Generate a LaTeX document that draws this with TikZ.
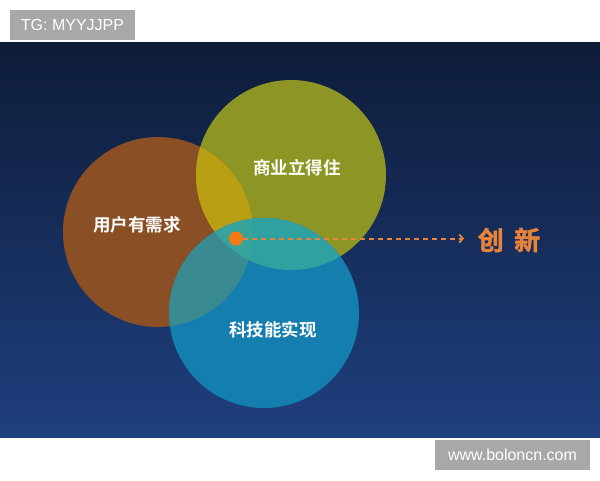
\documentclass[tikz,border=0pt]{standalone}
\usepackage{fontspec}
\setmainfont{Liberation Sans}
\newfontfamily\cjk{Noto Sans CJK SC}[BoldFont={Noto Sans CJK SC Bold}]
\newfontfamily\cjkheavy{Noto Sans CJK SC Bold}[FakeBold=1.6]
\usetikzlibrary{arrows.meta}
\definecolor{bgtop}{HTML}{0E1C38}
\definecolor{bgbot}{HTML}{1F3F7E}
\definecolor{tagbg}{HTML}{A8A8A8}
\definecolor{cbrown}{HTML}{8A4F24}
\definecolor{colive}{HTML}{8D9524}
\definecolor{cblue}{HTML}{147EAF}
\definecolor{cyel}{HTML}{B89F14}
\definecolor{cteal}{HTML}{2FA1A0}
\definecolor{cgteal}{HTML}{3A8A92}
\definecolor{ctriple}{HTML}{38A39A}
\definecolor{corange}{HTML}{E8843A}
\definecolor{cdot}{HTML}{F47A12}
\tikzset{
  tag/.style={fill=tagbg,text=white,font=\fontsize{16}{18}\selectfont,inner sep=0pt,outer sep=0pt},
  bubble/.style={circle,minimum size=190pt,inner sep=0pt,outer sep=0pt},
  bubbletext/.style={text=white,font=\cjk\bfseries\fontsize{17.5}{19}\selectfont},
}
\begin{document}
\begin{tikzpicture}[x=1pt,y=-1pt]
\useasboundingbox (0,0) rectangle (600,480);
\fill[white] (0,0) rectangle (600,480);
\shade[top color=bgtop,bottom color=bgbot] (0,42) rectangle (600,437);
\node[tag,minimum width=125pt,minimum height=30pt] (tg) at (72.5,25) {TG: MYYJJPP};
\node[tag,minimum width=155pt,minimum height=30pt] (www) at (512.5,455) {www.boloncn.com};
\coordinate (cu) at (158,232);
\coordinate (cb) at (291,175);
\coordinate (ct) at (264,313);
\node[bubble,fill=cbrown] (user) at (cu) {};
\node[bubble,fill=colive] (biz) at (cb) {};
\node[bubble,fill=cblue] (tech) at (ct) {};
\begin{scope}
  \clip (cu) circle[radius=95];
  \fill[cyel] (cb) circle[radius=95];
  \fill[cgteal] (ct) circle[radius=95];
\end{scope}
\begin{scope}
  \clip (cb) circle[radius=95];
  \fill[cteal] (ct) circle[radius=95];
\end{scope}
\begin{scope}
  \clip (cu) circle[radius=95];
  \clip (cb) circle[radius=95];
  \fill[ctriple] (ct) circle[radius=95];
\end{scope}
\node[bubbletext] (tuser) at (137,225) {用户有需求};
\node[bubbletext] (tbiz) at (297,168) {商业立得住};
\node[bubbletext] (ttech) at (273,330) {科技能实现};
\node[circle,fill=cdot,minimum size=14pt,inner sep=0pt] (dot) at (236,238.5) {};
\node[text=corange,font=\cjkheavy\fontsize{26}{28}\selectfont,inner sep=0pt] (innov) at (509,240) {创\hspace{0.4em}新};
\coordinate (tip) at (464,238.5);
\draw[corange,line width=2pt,dash pattern=on 5pt off 4pt,-{Straight Barb[length=3.5pt,width=8pt,line width=1.8pt]}]
  (dot.east) -- (tip);
\end{tikzpicture}
\end{document}
